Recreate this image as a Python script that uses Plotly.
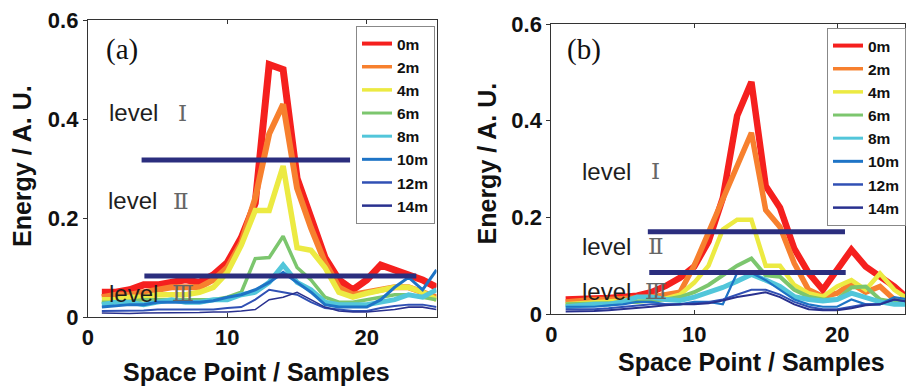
import plotly.graph_objects as go

W, H = 906, 386

samples = list(range(1, 26))
series_names = ["0m", "2m", "4m", "6m", "8m", "10m", "12m", "14m"]
colors = ["#f5201e", "#f7802e", "#ecea42", "#7cc66e", "#52c6da", "#1e74c6", "#3050b4", "#29318f"]
widths_a = [7, 6, 5.5, 3.5, 5, 3, 2, 1.6]
widths_b = [6.5, 5.5, 4.5, 4, 5, 2.2, 2, 2]
legend_widths = [4, 3.5, 3.5, 3, 3, 3, 2.5, 2.5]

# Panel (a) values
red_a = [0.05, 0.05, 0.055, 0.065, 0.065, 0.07, 0.075, 0.07, 0.085, 0.11, 0.16, 0.23, 0.51, 0.50, 0.28, 0.20, 0.12, 0.075, 0.055, 0.075, 0.105, 0.095, 0.085, 0.075, 0.06]
orange_a = [0.04, 0.045, 0.045, 0.05, 0.055, 0.06, 0.06, 0.06, 0.075, 0.10, 0.15, 0.24, 0.37, 0.43, 0.26, 0.18, 0.11, 0.06, 0.045, 0.05, 0.055, 0.06, 0.06, 0.05, 0.04]
yellow_a = [0.035, 0.035, 0.04, 0.04, 0.045, 0.045, 0.045, 0.05, 0.06, 0.09, 0.145, 0.215, 0.215, 0.305, 0.14, 0.135, 0.10, 0.05, 0.04, 0.048, 0.055, 0.06, 0.06, 0.05, 0.035]
green_a = [0.03, 0.03, 0.032, 0.035, 0.035, 0.035, 0.035, 0.035, 0.035, 0.04, 0.05, 0.118, 0.12, 0.163, 0.10, 0.075, 0.04, 0.03, 0.03, 0.035, 0.04, 0.045, 0.045, 0.04, 0.035]
cyan_a = [0.025, 0.03, 0.03, 0.025, 0.03, 0.035, 0.03, 0.03, 0.035, 0.035, 0.045, 0.05, 0.07, 0.105, 0.07, 0.055, 0.03, 0.025, 0.025, 0.025, 0.03, 0.035, 0.045, 0.04, 0.055]
blue_a = [0.02, 0.022, 0.025, 0.025, 0.03, 0.03, 0.03, 0.03, 0.033, 0.04, 0.045, 0.055, 0.07, 0.09, 0.07, 0.05, 0.025, 0.02, 0.02, 0.02, 0.035, 0.06, 0.08, 0.055, 0.095]
m12_a = [0.012, 0.012, 0.013, 0.013, 0.015, 0.015, 0.015, 0.015, 0.015, 0.018, 0.02, 0.035, 0.055, 0.05, 0.045, 0.03, 0.018, 0.015, 0.012, 0.012, 0.018, 0.022, 0.025, 0.025, 0.02]
m14_a = [0.008, 0.007, 0.007, 0.008, 0.008, 0.008, 0.009, 0.009, 0.01, 0.01, 0.012, 0.015, 0.035, 0.04, 0.05, 0.035, 0.02, 0.012, 0.01, 0.01, 0.012, 0.015, 0.02, 0.02, 0.015]

# Panel (b) values
red_b = [0.03, 0.03, 0.032, 0.033, 0.035, 0.038, 0.045, 0.058, 0.075, 0.098, 0.15, 0.24, 0.41, 0.48, 0.265, 0.22, 0.135, 0.085, 0.05, 0.09, 0.133, 0.098, 0.077, 0.057, 0.03]
orange_b = [0.025, 0.028, 0.03, 0.03, 0.032, 0.033, 0.035, 0.04, 0.045, 0.10, 0.17, 0.24, 0.31, 0.375, 0.215, 0.18, 0.105, 0.05, 0.036, 0.043, 0.063, 0.045, 0.057, 0.03, 0.022]
yellow_b = [0.02, 0.022, 0.025, 0.025, 0.028, 0.03, 0.03, 0.032, 0.04, 0.065, 0.10, 0.175, 0.195, 0.195, 0.10, 0.10, 0.06, 0.043, 0.036, 0.057, 0.07, 0.05, 0.084, 0.05, 0.03]
green_b = [0.02, 0.02, 0.022, 0.022, 0.025, 0.025, 0.028, 0.03, 0.035, 0.045, 0.06, 0.08, 0.10, 0.115, 0.08, 0.077, 0.05, 0.036, 0.03, 0.03, 0.055, 0.057, 0.03, 0.025, 0.03]
cyan_b = [0.015, 0.018, 0.02, 0.02, 0.025, 0.035, 0.035, 0.03, 0.028, 0.035, 0.045, 0.055, 0.068, 0.082, 0.07, 0.057, 0.036, 0.03, 0.027, 0.03, 0.043, 0.035, 0.025, 0.02, 0.02]
blue_b = [0.015, 0.015, 0.015, 0.018, 0.02, 0.025, 0.025, 0.02, 0.02, 0.025, 0.025, 0.02, 0.085, 0.085, 0.07, 0.05, 0.03, 0.02, 0.015, 0.015, 0.03, 0.02, 0.02, 0.035, 0.03]
m12_b = [0.01, 0.01, 0.01, 0.012, 0.015, 0.018, 0.02, 0.02, 0.02, 0.022, 0.025, 0.03, 0.04, 0.05, 0.05, 0.04, 0.025, 0.015, 0.01, 0.01, 0.015, 0.02, 0.02, 0.03, 0.025]
m14_b = [0.005, 0.005, 0.006, 0.008, 0.01, 0.012, 0.015, 0.018, 0.02, 0.02, 0.022, 0.028, 0.035, 0.04, 0.045, 0.035, 0.02, 0.01, 0.008, 0.008, 0.012, 0.018, 0.02, 0.03, 0.025]

panel_a = [red_a, orange_a, yellow_a, green_a, cyan_a, blue_a, m12_a, m14_a]
panel_b = [red_b, orange_b, yellow_b, green_b, cyan_b, blue_b, m12_b, m14_b]

# Level boundary lines: (x_start, x_end, y)
levels_a = [(3.85, 18.8, 0.317), (4.05, 23.55, 0.083)]
levels_b = [(6.75, 20.55, 0.170), (6.85, 20.6, 0.086)]
level_words = ["level", "level", "level"]
level_numerals = ["Ⅰ", "Ⅱ", "Ⅲ"]

x_ticks = [0, 10, 20]
y_ticks = [0, 0.2, 0.4, 0.6]
y_ticklabels = ["0", "0.2", "0.4", "0.6"]

LEVEL_COLOR = "#2b2e7e"

def px(x):
    return x / W

def py(y):
    return 1 - y / H

fig = go.Figure()

for i, name in enumerate(series_names):
    fig.add_trace(go.Scatter(x=samples, y=panel_a[i], mode="lines", name=name, showlegend=False,
                             line=dict(color=colors[i], width=widths_a[i]),
                             xaxis="x", yaxis="y"))
    fig.add_trace(go.Scatter(x=[None], y=[None], mode="lines", name=name,
                             line=dict(color=colors[i], width=legend_widths[i]),
                             xaxis="x", yaxis="y", legend="legend"))
for x0, x1, yv in levels_a:
    fig.add_trace(go.Scatter(x=[x0, x1], y=[yv, yv], mode="lines", showlegend=False,
                             line=dict(color=LEVEL_COLOR, width=5), xaxis="x", yaxis="y"))

for i, name in enumerate(series_names):
    fig.add_trace(go.Scatter(x=samples, y=panel_b[i], mode="lines", name=name, showlegend=False,
                             line=dict(color=colors[i], width=widths_b[i]),
                             xaxis="x2", yaxis="y2"))
    fig.add_trace(go.Scatter(x=[None], y=[None], mode="lines", name=name,
                             line=dict(color=colors[i], width=legend_widths[i]),
                             xaxis="x2", yaxis="y2", legend="legend2"))
for x0, x1, yv in levels_b:
    fig.add_trace(go.Scatter(x=[x0, x1], y=[yv, yv], mode="lines", showlegend=False,
                             line=dict(color=LEVEL_COLOR, width=5), xaxis="x2", yaxis="y2"))

tickfont = dict(family="Liberation Sans, Arial, sans-serif", size=22, color="#111", weight="bold")
axis_common = dict(showgrid=False, zeroline=False, showline=True, linecolor="#333", automargin=False,
                   linewidth=1.2, tickfont=tickfont, tickcolor="#333", ticklen=4)

legend_font = dict(family="Liberation Sans, Arial, sans-serif", size=15.5, color="#111", weight="bold")
fig.update_layout(
    width=W, height=H,
    margin=dict(l=0, r=0, t=0, b=0, pad=0),
    paper_bgcolor="white", plot_bgcolor="white",
    xaxis=dict(domain=[px(88), px(437)], range=[0, 25], tickvals=x_ticks,
               ticks="inside", mirror="ticks", anchor="y", **axis_common),
    yaxis=dict(domain=[py(317), py(20)], range=[0, 0.6], tickvals=y_ticks, ticktext=y_ticklabels,
               ticks="outside", mirror=True, anchor="x", **axis_common),
    xaxis2=dict(domain=[px(552), 1.0], range=[0, 24.75], tickvals=x_ticks,
                ticks="inside", mirror="ticks", anchor="y2", **axis_common),
    yaxis2=dict(domain=[py(314), py(24)], range=[0, 0.6], tickvals=y_ticks, ticktext=y_ticklabels,
                ticks="outside", mirror=True, anchor="x2", **axis_common),
    legend=dict(x=px(356), y=py(26), xanchor="left", yanchor="top",
                bgcolor="white", bordercolor="#888", borderwidth=1,
                font=legend_font, tracegroupgap=0, itemwidth=30),
    legend2=dict(x=px(828), y=py(28), xanchor="left", yanchor="top",
                 bgcolor="white", bordercolor="#888", borderwidth=1,
                 font=legend_font, tracegroupgap=0, itemwidth=30),
)

title_font = dict(family="Liberation Sans, Arial, sans-serif", size=25, color="#111", weight="bold")
ann = []
# axis titles
ann.append(dict(x=px(22), y=py(166), text="Energy / A. U.", textangle=-90, font=title_font))
ann.append(dict(x=px(488), y=py(163), text="Energy / A. U.", textangle=-90, font=title_font))
ann.append(dict(x=px(257), y=py(372), text="Space Point / Samples", font=title_font))
ann.append(dict(x=px(752), y=py(362), text="Space Point / Samples", font=title_font))
# panel labels
panel_font = dict(family="Liberation Serif, Times New Roman, serif", size=29, color="#111")
ann.append(dict(x=px(122), y=py(49), text="(a)", font=panel_font))
ann.append(dict(x=px(585), y=py(49), text="(b)", font=panel_font))

# level labels: word and roman numeral placed separately
word_font = dict(family="Liberation Sans, Arial, sans-serif", size=24, color="#1e1e1e")
num_font = dict(family="DejaVu Serif, serif", size=23, color="#666")
pos_a = [(107, 113), (106, 201), (107, 293)]
pos_b = [(581, 171), (581, 246), (581, 291)]
num_x_a = [183, 181, 183]
num_x_b = [656, 657, 657]
for (x0, y0), nx, w, n in zip(pos_a, num_x_a, level_words, level_numerals):
    ann.append(dict(x=px(x0), y=py(y0), text=w, xanchor="left", font=word_font))
    ann.append(dict(x=px(nx), y=py(y0), text=n, font=num_font))
for (x0, y0), nx, w, n in zip(pos_b, num_x_b, level_words, level_numerals):
    ann.append(dict(x=px(x0), y=py(y0), text=w, xanchor="left", font=word_font))
    ann.append(dict(x=px(nx), y=py(y0), text=n, font=num_font))

for a in ann:
    a.setdefault("xanchor", "center")
    a.update(xref="paper", yref="paper", yanchor="middle", showarrow=False)
fig.update_layout(annotations=ann)

fig.write_html("out.html")
